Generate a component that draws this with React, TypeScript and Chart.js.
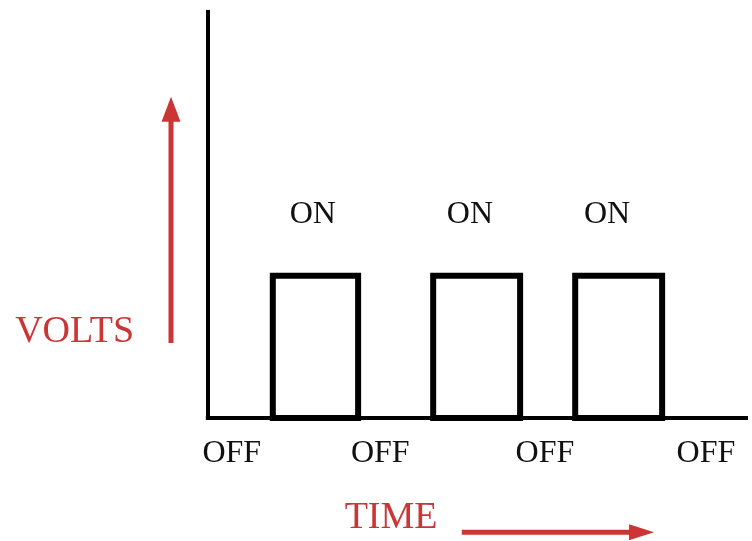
import { useEffect, useRef } from "react";
import { Chart, registerables } from "chart.js";

Chart.register(...registerables);

// ---- data (time units on x, volts on y) ----
const TIME_MAX = 10;
const VOLT_MAX = 2.87;
const ON_LEVEL = 1;
const pulseStarts = [1.2, 4.17, 6.8];
const pulseEnds = [2.78, 5.78, 8.41];

const onLabels = ["ON", "ON", "ON"];
const onLabelX = [1.94, 4.85, 7.39];
const ON_LABEL_Y = 1.37;

const offLabels = ["OFF", "OFF", "OFF", "OFF"];
const offLabelX = [0.44, 3.19, 6.24, 9.22];
const OFF_LABEL_Y = -0.31;

const voltsTitle = "VOLTS";
const voltsTitlePos = { x: -2.47, y: 0.535 };
const timeTitle = "TIME";
const timeTitlePos = { x: 3.39, y: -0.775 };

const voltsArrow = { x: -0.685, from: 0.528, to: 2.26 };
const timeArrow = { y: -0.803, from: 4.7, to: 8.26 };

const RED = "#cc3535";
const INK = "#111111";

const annotations = {
  id: "annotations",
  afterDatasetsDraw(chart: any) {
    const { ctx, scales } = chart;
    const xs = scales.x;
    const ys = scales.y;
    ctx.save();
    ctx.textAlign = "center";
    ctx.textBaseline = "alphabetic";

    ctx.fillStyle = INK;
    ctx.font = '32px "Liberation Serif"';
    onLabels.forEach((t, i) =>
      ctx.fillText(t, xs.getPixelForValue(onLabelX[i]), ys.getPixelForValue(ON_LABEL_Y))
    );
    offLabels.forEach((t, i) =>
      ctx.fillText(t, xs.getPixelForValue(offLabelX[i]), ys.getPixelForValue(OFF_LABEL_Y))
    );

    ctx.fillStyle = RED;
    ctx.font = '38px "Liberation Serif"';
    ctx.fillText(voltsTitle, xs.getPixelForValue(voltsTitlePos.x), ys.getPixelForValue(voltsTitlePos.y));
    ctx.fillText(timeTitle, xs.getPixelForValue(timeTitlePos.x), ys.getPixelForValue(timeTitlePos.y));

    // vertical arrow
    ctx.strokeStyle = RED;
    ctx.lineWidth = 5;
    const vx = xs.getPixelForValue(voltsArrow.x);
    const vy0 = ys.getPixelForValue(voltsArrow.from);
    const vy1 = ys.getPixelForValue(voltsArrow.to);
    const headLen = 25;
    ctx.beginPath();
    ctx.moveTo(vx, vy0);
    ctx.lineTo(vx, vy1 + headLen - 2);
    ctx.stroke();
    ctx.beginPath();
    ctx.moveTo(vx, vy1);
    ctx.lineTo(vx - 9.5, vy1 + headLen);
    ctx.lineTo(vx + 9.5, vy1 + headLen);
    ctx.closePath();
    ctx.fill();

    // horizontal arrow
    const hy = ys.getPixelForValue(timeArrow.y);
    const hx0 = xs.getPixelForValue(timeArrow.from);
    const hx1 = xs.getPixelForValue(timeArrow.to);
    ctx.beginPath();
    ctx.moveTo(hx0, hy);
    ctx.lineTo(hx1 - headLen + 2, hy);
    ctx.stroke();
    ctx.beginPath();
    ctx.moveTo(hx1, hy);
    ctx.lineTo(hx1 - headLen, hy - 8);
    ctx.lineTo(hx1 - headLen, hy + 8);
    ctx.closePath();
    ctx.fill();

    ctx.restore();
  },
};

export default function App() {
  const ref = useRef<HTMLCanvasElement>(null);

  useEffect(() => {
    if (!ref.current) return;
    const pulse = (s: number, e: number) => {
      const m = (s + e) / 2;
      return [
        { x: m, y: 0 },
        { x: e, y: 0 },
        { x: e, y: ON_LEVEL },
        { x: s, y: ON_LEVEL },
        { x: s, y: 0 },
        { x: m, y: 0 },
      ];
    };
    const base = {
      borderColor: "#000",
      pointRadius: 0,
      clip: false as any,
      fill: false,
      tension: 0,
      borderJoinStyle: "miter" as const,
    };
    const chart = new Chart(ref.current, {
      type: "line",
      data: {
        datasets: [
          { ...base, label: "time axis", borderWidth: 4, data: [{ x: -0.04, y: 0 }, { x: TIME_MAX, y: 0 }] },
          { ...base, label: "volts axis", borderWidth: 4, data: [{ x: 0, y: -0.014 }, { x: 0, y: VOLT_MAX }] },
          ...pulseStarts.map((s, i) => ({
            ...base,
            label: "pulse " + (i + 1),
            borderWidth: 6,
            data: pulse(s, pulseEnds[i]),
          })),
        ],
      },
      options: {
        responsive: false,
        animation: false,
        devicePixelRatio: 1,
        layout: { padding: { left: 208, right: 4, top: 10, bottom: 123 } },
        scales: {
          x: { type: "linear", min: 0, max: TIME_MAX, display: false },
          y: { type: "linear", min: 0, max: VOLT_MAX, display: false },
        },
        plugins: { legend: { display: false }, tooltip: { enabled: false } },
      },
      plugins: [annotations],
    });
    return () => chart.destroy();
  }, []);

  return (
    <canvas
      ref={ref}
      width={752}
      height={541}
      style={{ position: "absolute", left: 0, top: 0, width: 752, height: 541 }}
    />
  );
}
